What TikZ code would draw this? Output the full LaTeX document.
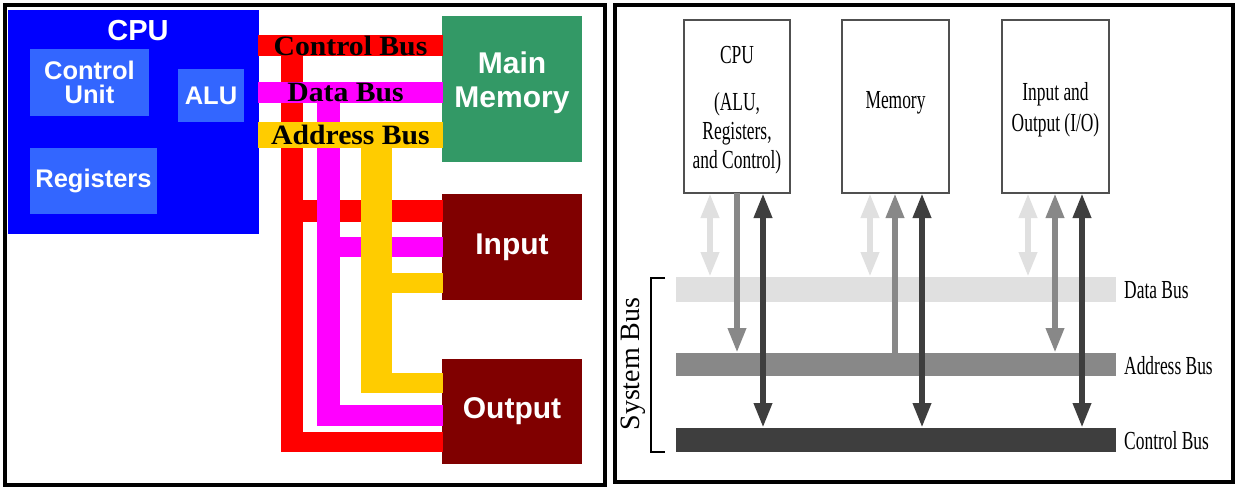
\documentclass[tikz,border=0pt]{standalone}
\usepackage{fontspec}
\setmainfont{Liberation Sans}
\newfontfamily\timesbold[FakeStretch=1.06]{Liberation Serif}
\newfontfamily\timescond[FakeStretch=0.67]{Liberation Serif}
\newfontfamily\timesplain{Liberation Serif}
\usetikzlibrary{arrows.meta}
\definecolor{cpublue}{HTML}{0000FF}
\definecolor{unitblue}{HTML}{3366FF}
\definecolor{memgreen}{HTML}{339966}
\definecolor{iored}{HTML}{800000}
\definecolor{busred}{HTML}{FF0000}
\definecolor{busmag}{HTML}{FF00FF}
\definecolor{busyel}{HTML}{FFCC00}
\definecolor{lightg}{HTML}{E0E0E0}
\definecolor{medg}{HTML}{888888}
\definecolor{darkg}{HTML}{3E3E3E}
\definecolor{boxedge}{HTML}{505050}
\begin{document}
\begin{tikzpicture}[x=1pt,y=-1pt,
  blk/.style={inner sep=0pt, outer sep=0pt, align=center},
  wtxt/.style={text=white, font=\bfseries\fontsize{25.5}{23.5}\selectfont},
  wbig/.style={text=white, font=\bfseries\fontsize{30}{34}\selectfont},
  bustxt/.style={text=black, font=\timesbold\bfseries\fontsize{28}{30}\selectfont},
  rbox/.style={blk, draw=boxedge, line width=2pt, fill=white},
  rtxt/.style={inner sep=0pt, anchor=base, font=\timescond\fontsize{26}{29}\selectfont},
  rbar/.style={inner sep=0pt, outer sep=0pt, minimum width=440pt},
  conn/.style={line width=6.5pt},
  frame/.style={draw=black, line width=4pt}
]
\useasboundingbox (0,0) rectangle (1240,493);
\fill[white] (0,0) rectangle (1240,493);

% ================= LEFT PANEL =================
\node[blk, fill=cpublue, minimum width=251pt, minimum height=224pt] (cpu) at (133.5,122) {};
\node[inner sep=0pt, text=white, font=\bfseries\fontsize{29}{30}\selectfont] (cputitle) at (138,31) {CPU};
\node[blk, wtxt, fill=unitblue, minimum width=119pt, minimum height=67pt] (cu) at (89.5,82.5) {Control\\Unit};
\node[blk, wtxt, fill=unitblue, minimum width=66pt, minimum height=53pt] (alu) at (211,95.5) {ALU};
\node[blk, wtxt, fill=unitblue, minimum width=127pt, minimum height=66pt] (reg) at (93.5,181) {Registers};

\node[blk, fill=memgreen, minimum width=140pt, minimum height=146pt] (mainmem) at (512,89) {};
\node[blk, wbig] (mainmemtxt) at (512,82.5) {Main\\Memory};
\node[blk, wbig, fill=iored, minimum width=140pt, minimum height=106pt] (inp) at (512,247) {Input};
\node[blk, wbig, fill=iored, minimum width=140pt, minimum height=105pt] (outp) at (512,411.5) {Output};

% bus wiring (red, magenta, yellow)
\fill[busred] (281,56) rectangle (303,452);
\fill[busred] (303,200) rectangle (443,222);
\fill[busred] (303,432) rectangle (443,452);
\fill[busmag] (317,103) rectangle (340,426);
\fill[busmag] (340,237) rectangle (443,257);
\fill[busmag] (340,405) rectangle (443,426);
\fill[busyel] (361,148) rectangle (392,393);
\fill[busyel] (392,273) rectangle (443,293);
\fill[busyel] (392,373) rectangle (443,393);

% bus bars with labels
\node[blk, bustxt, fill=busred, minimum width=185pt, minimum height=21pt] (cbus) at (350.5,45.5) {Control Bus};
\node[blk, bustxt, fill=busmag, minimum width=185pt, minimum height=21pt] (dbusl) at (350.5,92.5) {Data Bus\hspace*{10pt}};
\node[blk, bustxt, fill=busyel, minimum width=185pt, minimum height=26pt] (abusl) at (350.5,135) {Address Bus};

\draw[frame] (5,5) rectangle (605,485);

% ================= RIGHT PANEL =================
\node[rbox, minimum width=106pt, minimum height=173pt] (rcpu) at (737,106.5) {};
\node[rbox, minimum width=107pt, minimum height=173pt] (rmem) at (895.5,106.5) {};
\node[rbox, minimum width=107pt, minimum height=173pt] (rio) at (1055.5,106.5) {};

\node[rtxt] (rcpu1) at (737,63) {CPU};
\node[rtxt] (rcpu2) at (737,110) {(ALU,};
\node[rtxt] (rcpu3) at (737,139) {Registers,};
\node[rtxt] (rcpu4) at (737,168) {and Control)};
\node[rtxt] (rmem1) at (895.5,108) {Memory};
\node[rtxt] (rio1) at (1055.5,100) {Input and};
\node[rtxt] (rio2) at (1055.5,131) {Output (I/O)};

\node[rbar, fill=lightg, minimum height=25pt] (dbus) at (896,289.5) {};
\node[rbar, fill=medg, minimum height=23pt] (abus) at (896,364.5) {};
\node[rbar, fill=darkg, minimum height=24pt] (ctlbus) at (896,440) {};

\node[inner sep=0pt, anchor=west, font=\timescond\fontsize{26}{28}\selectfont] (dlab) at (1124,290) {Data Bus};
\node[inner sep=0pt, anchor=west, font=\timescond\fontsize{26}{28}\selectfont] (alab) at (1124,366) {Address Bus};
\node[inner sep=0pt, anchor=west, font=\timescond\fontsize{26}{28}\selectfont] (clab) at (1124,441) {Control Bus};

% arrow columns
\coordinate (x1) at (710,0);
\coordinate (x2) at (737,0);
\coordinate (x3) at (763,0);
\coordinate (x4) at (870,0);
\coordinate (x5) at (895,0);
\coordinate (x6) at (922,0);
\coordinate (x7) at (1028,0);
\coordinate (x8) at (1055,0);
\coordinate (x9) at (1082,0);

% CPU
\draw[conn, lightg, {Triangle[width=17pt,length=25pt]}-{Triangle[width=17pt,length=25pt]}] (rcpu.south -| x1) -- (dbus.north -| x1);
\draw[conn, medg, -{Triangle[width=17pt,length=25pt]}] (rcpu.south -| x2) -- (abus.north -| x2);
\draw[conn, darkg, {Triangle[width=17pt,length=25pt]}-{Triangle[width=17pt,length=25pt]}] (rcpu.south -| x3) -- (ctlbus.north -| x3);
% Memory
\draw[conn, lightg, {Triangle[width=17pt,length=25pt]}-{Triangle[width=17pt,length=25pt]}] (rmem.south -| x4) -- (dbus.north -| x4);
\draw[conn, medg, -{Triangle[width=17pt,length=25pt]}] (abus.north -| x5) -- (rmem.south -| x5);
\draw[conn, darkg, {Triangle[width=17pt,length=25pt]}-{Triangle[width=17pt,length=25pt]}] (rmem.south -| x6) -- (ctlbus.north -| x6);
% I/O
\draw[conn, lightg, {Triangle[width=17pt,length=25pt]}-{Triangle[width=17pt,length=25pt]}] (rio.south -| x7) -- (dbus.north -| x7);
\draw[conn, medg, {Triangle[width=17pt,length=25pt]}-{Triangle[width=17pt,length=25pt]}] (rio.south -| x8) -- (abus.north -| x8);
\draw[conn, darkg, {Triangle[width=17pt,length=25pt]}-{Triangle[width=17pt,length=25pt]}] (rio.south -| x9) -- (ctlbus.north -| x9);

% system bus bracket
\draw[black, line width=2.5pt] (665,278) -- (651,278) -- (651,452) -- (665,452);
\node[inner sep=0pt, rotate=90, font=\timesplain\fontsize{28}{29}\selectfont] (sysbus) at (633,364) {System Bus};

\draw[frame] (615,5) rectangle (1233,482);
\end{tikzpicture}
\end{document}
